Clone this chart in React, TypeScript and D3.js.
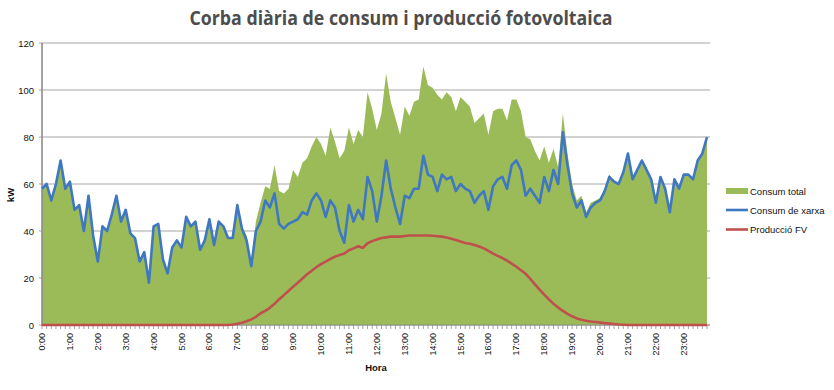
import React from 'react';
import * as d3 from 'd3';

// 10-minute resolution, 144 points per day
const hourLabels = [
  '0:00', '1:00', '2:00', '3:00', '4:00', '5:00', '6:00', '7:00', '8:00', '9:00', '10:00', '11:00',
  '12:00', '13:00', '14:00', '15:00', '16:00', '17:00', '18:00', '19:00', '20:00', '21:00', '22:00', '23:00',
];

const consumXarxa = [
  58, 60, 53, 60, 70, 58,
  61, 49, 51, 40, 55, 38,
  27, 42, 40, 47, 55, 44,
  49, 39, 37, 27, 31, 18,
  42, 43, 28, 22, 33, 36,
  33, 46, 42, 44, 32, 36,
  45, 34, 44, 42, 37, 37,
  51, 41, 36, 25, 40, 44,
  53, 50, 56, 43, 41, 43,
  44, 45, 48, 47, 53, 56,
  53, 46, 53, 50, 40, 35,
  51, 44, 49, 45, 63, 57,
  44, 55, 70, 58, 50, 43,
  55, 54, 58, 58, 72, 64,
  63, 57, 64, 62, 63, 57,
  60, 58, 57, 52, 55, 57,
  49, 59, 62, 63, 58, 68,
  70, 66, 55, 58, 55, 52,
  63, 57, 66, 60, 82, 68,
  56, 50, 53, 46, 50, 52,
  53, 57, 63, 61, 60, 65,
  73, 62, 66, 70, 66, 62,
  52, 63, 58, 48, 62, 58,
  64, 64, 62, 70, 73, 80,
];

const consumTotal = [
  58, 60, 53, 60, 70, 58,
  61, 49, 51, 40, 55, 38,
  27, 42, 40, 47, 55, 44,
  49, 39, 37, 27, 31, 18,
  42, 43, 28, 22, 33, 36,
  33, 46, 42, 44, 32, 36,
  45, 34, 44, 42, 37, 37,
  52, 42, 38, 27, 44, 52,
  59, 58, 68, 57, 56, 58,
  66, 63, 69, 71, 76, 80,
  77, 72, 84, 78, 71, 74,
  84, 77, 83, 80, 99, 92,
  83, 90, 107, 95, 88, 81,
  93, 89, 95, 96, 110, 102,
  101, 98, 96, 99, 97, 91,
  97, 95, 93, 86, 88, 90,
  81, 91, 92, 92, 87, 96,
  96, 91, 80, 79, 74, 70,
  76, 69, 75, 67, 90, 73,
  60, 53, 55, 48, 52, 53,
  54, 58, 64, 61, 60, 65,
  73, 62, 66, 70, 66, 62,
  52, 63, 58, 48, 62, 58,
  64, 64, 62, 70, 73, 80,
];

const produccioFV = [
  0, 0, 0, 0, 0, 0,
  0, 0, 0, 0, 0, 0,
  0, 0, 0, 0, 0, 0,
  0, 0, 0, 0, 0, 0,
  0, 0, 0, 0, 0, 0,
  0, 0, 0, 0, 0, 0,
  0, 0, 0, 0, 0, 0.2,
  0.5, 1.0, 1.6, 2.4, 3.5, 5.0,
  6.0, 7.3, 9.0, 11.0, 12.7, 14.5,
  16.3, 18.0, 19.8, 21.6, 23.1, 24.6,
  25.9, 27.0, 28.1, 29.1, 29.8, 30.4,
  31.8, 32.6, 33.5, 32.8, 34.8, 35.7,
  36.4, 37.0, 37.3, 37.6, 37.6, 37.6,
  37.9, 38.1, 38.1, 38.1, 38.1, 38.1,
  38.0, 37.8, 37.6, 37.2, 36.7, 36.2,
  35.5, 34.9, 34.6, 34.0, 33.4, 32.6,
  31.5, 30.4, 29.4, 28.5, 27.4, 26.1,
  24.8, 23.3, 21.8, 19.6, 17.3, 15.1,
  12.9, 10.9, 9.0, 7.4, 6.0, 4.7,
  3.7, 2.8, 2.2, 1.8, 1.5, 1.3,
  1.1, 0.8, 0.6, 0.4, 0.2, 0.1,
  0, 0, 0, 0, 0, 0,
  0, 0, 0, 0, 0, 0,
  0, 0, 0, 0, 0, 0,
];

const yTicks = [0, 20, 40, 60, 80, 100, 120];
const seriesNames = ['Consum total', 'Consum de xarxa', 'Producció FV'];
const pointsPerHour = 6;

const GREEN = '#9bbb59';
const BLUE = '#3f78c0';
const RED = '#c0504d';
const GRID = '#c3c3c3';
const AXIS = '#8c8c8c';

export default function App() {
  const W = 834;
  const H = 390;
  const left = 42;
  const right = 710;
  const n = consumTotal.length;
  const x = d3.scaleLinear().domain([0, n - 1]).range([left, 707]);
  const y = d3.scaleLinear().domain([0, 120]).range([325, 43]);

  const area = d3
    .area<number>()
    .x((_, i) => x(i))
    .y0(y(0))
    .y1((d) => y(d));
  const line = d3
    .line<number>()
    .x((_, i) => x(i))
    .y((d) => y(d));

  const font = 'Liberation Sans, Arial, sans-serif';

  return (
    <svg
      width={W}
      height={H}
      viewBox={`0 0 ${W} ${H}`}
      style={{ position: 'absolute', left: 0, top: 0, background: '#fff' }}
    >
      <text
        x={401}
        y={25}
        textAnchor="middle"
        fontFamily="Open Sans, sans-serif"
        fontWeight={700}
        fontSize={20}
        fill="#4d4d4d"
        textLength={423}
        lengthAdjust="spacingAndGlyphs"
      >
        Corba diària de consum i producció fotovoltaica
      </text>

      {/* gridlines */}
      {yTicks.map((t) => (
        <g key={t}>
          <line x1={left - 3} x2={right} y1={y(t)} y2={y(t)} stroke={GRID} strokeWidth={1.6} />
          <text
            x={34}
            y={y(t)}
            textAnchor="end"
            dominantBaseline="central"
            fontFamily={font}
            fontSize={9.5}
            fill="#111"
          >
            {t}
          </text>
        </g>
      ))}

      {/* consum total area */}
      <path d={area(consumTotal) || ''} fill={GREEN} />

      {/* axes */}
      <line x1={left} x2={left} y1={y(120)} y2={y(0) + 1} stroke={AXIS} strokeWidth={1.6} />
      <line x1={left} x2={right} y1={y(0)} y2={y(0)} stroke={AXIS} strokeWidth={1.2} />
      {consumTotal.map((_, i) => (
        <line key={i} x1={x(i)} x2={x(i)} y1={y(0)} y2={y(0) + 4} stroke={AXIS} strokeWidth={0.8} />
      ))}

      {/* lines */}
      <path d={line(consumXarxa) || ''} fill="none" stroke={BLUE} strokeWidth={2.6} strokeLinejoin="round" />
      <path d={line(produccioFV) || ''} fill="none" stroke={RED} strokeWidth={2.6} strokeLinejoin="round" />

      {/* x labels */}
      {hourLabels.map((lab, h) => {
        const px = x(h * pointsPerHour);
        return (
          <text
            key={lab}
            transform={`translate(${px},333) rotate(-90)`}
            textAnchor="end"
            dominantBaseline="central"
            fontFamily={font}
            fontSize={9}
            fill="#111"
          >
            {lab}
          </text>
        );
      })}

      <text x={376} y={371} textAnchor="middle" fontFamily={font} fontWeight={700} fontSize={9.5} fill="#111">
        Hora
      </text>
      <text
        transform="translate(10,195) rotate(-90)"
        textAnchor="middle"
        dominantBaseline="central"
        fontFamily={font}
        fontWeight={700}
        fontSize={9.5}
        fill="#111"
      >
        kW
      </text>

      {/* legend */}
      <rect x={726} y={188} width={22} height={6} fill={GREEN} />
      <line x1={726} x2={748} y1={210} y2={210} stroke={BLUE} strokeWidth={2.6} />
      <line x1={726} x2={748} y1={229.5} y2={229.5} stroke={RED} strokeWidth={2.6} />
      {seriesNames.map((s, i) => (
        <text
          key={s}
          x={750}
          y={191 + i * 19.3}
          dominantBaseline="central"
          fontFamily={font}
          fontSize={9.5}
          fill="#111"
        >
          {s}
        </text>
      ))}
    </svg>
  );
}
